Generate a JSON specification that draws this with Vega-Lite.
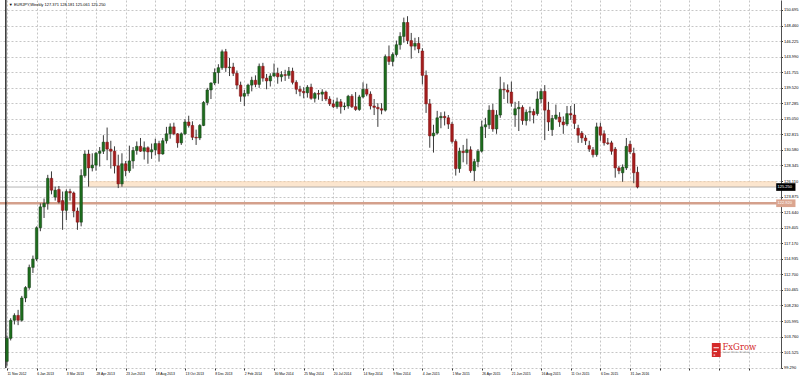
{
"$schema":"https://vega.github.io/schema/vega-lite/v6.json",
"width":781,"height":368,
"autosize":{"type":"none"},
"padding":{"left":0,"top":0,"right":19,"bottom":8},
"background":"white",
"config":{"view":{"stroke":null},"font":"Liberation Sans","axis":{"labelOverlap":false,"labelFlush":false,"labelFont":"Liberation Sans"}},
"datasets":{
"candles":[
{"i":0,"o":100.2,"h":103.9,"l":99.6,"c":103.5},
{"i":1,"o":103.5,"h":106.4,"l":103.2,"c":106.1},
{"i":2,"o":106.1,"h":107.1,"l":105.5,"c":106.8},
{"i":3,"o":106.8,"h":107.6,"l":105.4,"c":106.1},
{"i":4,"o":106.1,"h":109.6,"l":105.9,"c":109.3},
{"i":5,"o":109.3,"h":111.0,"l":108.7,"c":110.8},
{"i":6,"o":110.8,"h":114.1,"l":110.5,"c":113.7},
{"i":7,"o":113.7,"h":115.4,"l":112.9,"c":114.9},
{"i":8,"o":114.9,"h":119.6,"l":114.6,"c":119.4},
{"i":9,"o":119.4,"h":122.9,"l":118.9,"c":122.4},
{"i":10,"o":122.4,"h":123.6,"l":120.8,"c":122.9},
{"i":11,"o":122.9,"h":127.0,"l":122.0,"c":126.5},
{"i":12,"o":126.5,"h":127.5,"l":124.2,"c":124.8},
{"i":13,"o":123.8,"h":125.3,"l":123.3,"c":124.8},
{"i":14,"o":124.9,"h":125.4,"l":122.9,"c":123.1},
{"i":15,"o":123.3,"h":124.6,"l":119.1,"c":121.9},
{"i":16,"o":121.9,"h":124.9,"l":120.5,"c":124.6},
{"i":17,"o":124.6,"h":125.0,"l":123.3,"c":124.4},
{"i":18,"o":124.4,"h":124.6,"l":120.9,"c":121.8},
{"i":19,"o":121.8,"h":122.3,"l":119.1,"c":120.2},
{"i":20,"o":120.2,"h":127.8,"l":119.6,"c":126.9},
{"i":21,"o":126.9,"h":130.5,"l":126.6,"c":130.0},
{"i":22,"o":130.0,"h":130.6,"l":125.3,"c":128.0},
{"i":23,"o":128.0,"h":130.1,"l":127.5,"c":128.4},
{"i":24,"o":128.4,"h":130.3,"l":127.6,"c":130.1},
{"i":25,"o":130.1,"h":131.0,"l":128.2,"c":130.4},
{"i":26,"o":130.4,"h":132.7,"l":130.0,"c":131.7},
{"i":27,"o":131.7,"h":133.8,"l":129.1,"c":130.7},
{"i":28,"o":130.7,"h":131.9,"l":127.9,"c":130.4},
{"i":29,"o":130.4,"h":131.1,"l":127.2,"c":128.3},
{"i":30,"o":128.3,"h":129.9,"l":125.1,"c":125.7},
{"i":31,"o":125.7,"h":130.1,"l":125.3,"c":128.6},
{"i":32,"o":128.6,"h":129.0,"l":126.8,"c":127.6},
{"i":33,"o":127.6,"h":131.2,"l":127.3,"c":129.0},
{"i":34,"o":129.0,"h":131.0,"l":127.9,"c":130.5},
{"i":35,"o":130.5,"h":131.8,"l":129.9,"c":131.1},
{"i":36,"o":131.1,"h":132.3,"l":130.3,"c":130.4},
{"i":37,"o":130.4,"h":131.8,"l":129.2,"c":130.9},
{"i":38,"o":130.9,"h":131.1,"l":128.6,"c":130.3},
{"i":39,"o":130.3,"h":131.5,"l":129.3,"c":130.6},
{"i":40,"o":130.6,"h":132.2,"l":129.8,"c":131.5},
{"i":41,"o":131.5,"h":131.9,"l":128.9,"c":130.0},
{"i":42,"o":130.0,"h":132.3,"l":129.9,"c":131.9},
{"i":43,"o":131.9,"h":133.9,"l":131.5,"c":132.9},
{"i":44,"o":132.9,"h":134.4,"l":132.2,"c":133.9},
{"i":45,"o":133.9,"h":134.5,"l":132.7,"c":132.9},
{"i":46,"o":132.9,"h":133.0,"l":130.9,"c":131.6},
{"i":47,"o":131.6,"h":133.1,"l":131.3,"c":132.9},
{"i":48,"o":132.9,"h":135.0,"l":132.7,"c":134.6},
{"i":49,"o":134.6,"h":135.5,"l":133.8,"c":134.1},
{"i":50,"o":134.1,"h":134.7,"l":132.0,"c":132.4},
{"i":51,"o":132.4,"h":133.5,"l":131.3,"c":132.3},
{"i":52,"o":132.3,"h":134.3,"l":132.0,"c":134.1},
{"i":53,"o":134.1,"h":137.6,"l":134.0,"c":137.4},
{"i":54,"o":137.4,"h":139.5,"l":137.0,"c":139.2},
{"i":55,"o":139.2,"h":140.3,"l":137.9,"c":140.2},
{"i":56,"o":140.2,"h":142.3,"l":139.9,"c":141.7},
{"i":57,"o":141.7,"h":142.9,"l":140.1,"c":142.4},
{"i":58,"o":142.4,"h":145.0,"l":142.1,"c":144.7},
{"i":59,"o":144.7,"h":145.1,"l":141.8,"c":142.4},
{"i":60,"o":142.4,"h":143.8,"l":141.2,"c":142.5},
{"i":61,"o":142.5,"h":143.1,"l":141.2,"c":141.6},
{"i":62,"o":141.6,"h":142.0,"l":139.3,"c":139.9},
{"i":63,"o":139.9,"h":140.4,"l":137.5,"c":138.3},
{"i":64,"o":138.3,"h":139.2,"l":136.9,"c":138.7},
{"i":65,"o":138.7,"h":140.1,"l":138.3,"c":139.9},
{"i":66,"o":139.9,"h":141.1,"l":139.0,"c":140.6},
{"i":67,"o":140.6,"h":141.3,"l":139.6,"c":140.0},
{"i":68,"o":140.0,"h":143.0,"l":139.5,"c":142.6},
{"i":69,"o":142.6,"h":143.1,"l":140.4,"c":140.9},
{"i":70,"o":140.9,"h":141.5,"l":139.3,"c":140.5},
{"i":71,"o":140.5,"h":141.6,"l":139.7,"c":141.2},
{"i":72,"o":141.2,"h":143.0,"l":141.1,"c":141.6},
{"i":73,"o":141.6,"h":142.4,"l":140.1,"c":141.1},
{"i":74,"o":141.1,"h":141.9,"l":140.4,"c":141.4},
{"i":75,"o":141.4,"h":142.1,"l":140.5,"c":141.3},
{"i":76,"o":141.3,"h":142.5,"l":140.8,"c":141.9},
{"i":77,"o":141.9,"h":142.4,"l":140.0,"c":140.3},
{"i":78,"o":140.3,"h":140.6,"l":138.6,"c":139.3},
{"i":79,"o":139.3,"h":139.8,"l":138.3,"c":139.0},
{"i":80,"o":139.0,"h":139.6,"l":138.0,"c":138.8},
{"i":81,"o":138.8,"h":139.9,"l":138.1,"c":139.6},
{"i":82,"o":139.6,"h":140.1,"l":137.8,"c":138.0},
{"i":83,"o":138.0,"h":138.9,"l":137.4,"c":138.7},
{"i":84,"o":138.7,"h":139.2,"l":137.8,"c":138.6},
{"i":85,"o":138.6,"h":139.3,"l":137.6,"c":138.9},
{"i":86,"o":138.9,"h":139.1,"l":137.6,"c":137.9},
{"i":87,"o":137.9,"h":138.3,"l":136.9,"c":137.2},
{"i":88,"o":137.2,"h":137.8,"l":136.6,"c":136.8},
{"i":89,"o":136.8,"h":138.1,"l":136.5,"c":137.5},
{"i":90,"o":137.5,"h":137.9,"l":135.8,"c":136.8},
{"i":91,"o":136.8,"h":137.4,"l":136.3,"c":136.9},
{"i":92,"o":136.9,"h":138.5,"l":136.5,"c":138.3},
{"i":93,"o":138.3,"h":138.6,"l":136.6,"c":136.8},
{"i":94,"o":136.8,"h":138.9,"l":136.2,"c":136.4},
{"i":95,"o":136.4,"h":138.5,"l":136.2,"c":138.2},
{"i":96,"o":138.2,"h":140.3,"l":138.0,"c":139.3},
{"i":97,"o":139.3,"h":140.1,"l":138.3,"c":138.6},
{"i":98,"o":138.6,"h":139.0,"l":136.4,"c":136.9},
{"i":99,"o":136.9,"h":137.9,"l":135.6,"c":136.7},
{"i":100,"o":136.7,"h":137.3,"l":133.9,"c":136.5},
{"i":101,"o":136.5,"h":137.3,"l":135.7,"c":136.3},
{"i":102,"o":136.3,"h":144.3,"l":136.1,"c":144.0},
{"i":103,"o":144.0,"h":145.6,"l":142.8,"c":143.3},
{"i":104,"o":143.3,"h":144.6,"l":142.6,"c":144.3},
{"i":105,"o":144.3,"h":146.3,"l":144.0,"c":145.7},
{"i":106,"o":145.7,"h":147.5,"l":145.0,"c":146.9},
{"i":107,"o":146.9,"h":149.6,"l":146.0,"c":148.9},
{"i":108,"o":148.9,"h":149.8,"l":145.8,"c":146.3},
{"i":109,"o":146.3,"h":147.4,"l":143.7,"c":145.5},
{"i":110,"o":145.5,"h":146.7,"l":144.9,"c":145.9},
{"i":111,"o":145.9,"h":146.8,"l":144.5,"c":145.1},
{"i":112,"o":144.8,"h":145.2,"l":140.0,"c":141.3},
{"i":113,"o":141.3,"h":142.0,"l":135.9,"c":137.2},
{"i":114,"o":137.2,"h":137.9,"l":130.9,"c":132.6},
{"i":115,"o":132.6,"h":134.2,"l":130.2,"c":133.0},
{"i":116,"o":133.0,"h":136.2,"l":132.8,"c":135.2},
{"i":117,"o":135.2,"h":136.0,"l":133.7,"c":135.4},
{"i":118,"o":135.4,"h":136.1,"l":134.1,"c":135.2},
{"i":119,"o":135.2,"h":135.6,"l":133.6,"c":134.3},
{"i":120,"o":134.3,"h":134.6,"l":131.5,"c":131.8},
{"i":121,"o":131.8,"h":132.1,"l":126.9,"c":127.9},
{"i":122,"o":127.9,"h":130.9,"l":127.3,"c":130.4},
{"i":123,"o":130.4,"h":131.3,"l":128.8,"c":130.2},
{"i":124,"o":130.2,"h":132.2,"l":128.5,"c":130.6},
{"i":125,"o":130.6,"h":131.1,"l":127.3,"c":127.6},
{"i":126,"o":127.6,"h":129.3,"l":126.1,"c":128.9},
{"i":127,"o":128.9,"h":130.7,"l":128.1,"c":130.4},
{"i":128,"o":130.4,"h":134.8,"l":130.2,"c":133.9},
{"i":129,"o":133.9,"h":135.2,"l":132.3,"c":134.2},
{"i":130,"o":134.2,"h":137.0,"l":133.6,"c":136.3},
{"i":131,"o":136.3,"h":137.2,"l":133.2,"c":133.6},
{"i":132,"o":133.6,"h":136.3,"l":132.9,"c":135.6},
{"i":133,"o":135.6,"h":141.1,"l":135.2,"c":139.3},
{"i":134,"o":139.3,"h":140.3,"l":137.9,"c":139.2},
{"i":135,"o":139.2,"h":140.0,"l":137.3,"c":138.9},
{"i":136,"o":138.9,"h":140.4,"l":136.8,"c":137.3},
{"i":137,"o":135.6,"h":137.5,"l":133.9,"c":136.5},
{"i":138,"o":136.5,"h":137.6,"l":133.3,"c":136.7},
{"i":139,"o":136.7,"h":137.0,"l":134.2,"c":134.8},
{"i":140,"o":134.8,"h":136.4,"l":134.1,"c":136.0},
{"i":141,"o":136.0,"h":136.8,"l":134.7,"c":136.1},
{"i":142,"o":136.1,"h":136.5,"l":134.4,"c":135.6},
{"i":143,"o":135.8,"h":139.0,"l":135.5,"c":137.9},
{"i":144,"o":137.9,"h":139.4,"l":137.3,"c":139.0},
{"i":145,"o":139.0,"h":139.9,"l":132.0,"c":136.3},
{"i":146,"o":136.3,"h":137.5,"l":133.3,"c":134.6},
{"i":147,"o":133.5,"h":135.6,"l":132.6,"c":135.1},
{"i":148,"o":135.1,"h":137.1,"l":134.9,"c":135.6},
{"i":149,"o":135.3,"h":136.0,"l":133.9,"c":134.6},
{"i":150,"o":134.6,"h":135.4,"l":132.9,"c":134.2},
{"i":151,"o":134.3,"h":136.9,"l":134.0,"c":135.8},
{"i":152,"o":135.8,"h":136.9,"l":134.9,"c":135.6},
{"i":153,"o":135.6,"h":137.2,"l":133.6,"c":134.4},
{"i":154,"o":133.7,"h":134.2,"l":131.6,"c":132.7},
{"i":155,"o":133.0,"h":133.3,"l":131.6,"c":132.3},
{"i":156,"o":132.3,"h":132.7,"l":131.3,"c":131.9},
{"i":157,"o":131.2,"h":131.9,"l":130.3,"c":130.7},
{"i":158,"o":130.6,"h":131.0,"l":129.5,"c":129.9},
{"i":159,"o":129.9,"h":134.5,"l":129.6,"c":133.9},
{"i":160,"o":133.9,"h":134.5,"l":131.9,"c":132.7},
{"i":161,"o":132.9,"h":133.4,"l":131.2,"c":131.6},
{"i":162,"o":131.6,"h":132.3,"l":131.3,"c":131.5},
{"i":163,"o":131.6,"h":131.9,"l":129.9,"c":130.4},
{"i":164,"o":130.7,"h":131.0,"l":126.6,"c":128.0},
{"i":165,"o":128.0,"h":128.3,"l":127.1,"c":127.6},
{"i":166,"o":127.3,"h":128.5,"l":126.0,"c":128.1},
{"i":167,"o":128.0,"h":132.3,"l":127.7,"c":131.1},
{"i":168,"o":131.4,"h":131.9,"l":130.0,"c":130.3},
{"i":169,"o":130.1,"h":130.9,"l":125.8,"c":127.3},
{"i":170,"o":127.371,"h":128.181,"l":125.061,"c":125.25}
]
},
"layer":[
{"data":{"values":[{"x1":22,"x2":207.35,"lo":125.3,"hi":126.02}]},
 "mark":{"type":"rect","fill":"#fce6cf","stroke":"#f6cfa6","strokeWidth":0.6},
 "encoding":{
  "x":{"field":"x1","type":"quantitative","title":null,
   "scale":{"domain":[-0.532,207.35],"nice":false,"zero":false},
   "axis":{"orient":"bottom","values":[0,8,16,24,32,40,48,56,64,72,80,88,96,104,112,120,128,136,144,152,160,168,176,184,192,200],"tickCount":60,
    "labelExpr":"['11 Nov 2012','6 Jan 2013','3 Mar 2013','28 Apr 2013','23 Jun 2013','18 Aug 2013','13 Oct 2013','8 Dec 2013','2 Feb 2014','30 Mar 2014','25 May 2014','20 Jul 2014','14 Sep 2014','9 Nov 2014','4 Jan 2015','1 Mar 2015','26 Apr 2015','21 Jun 2015','16 Aug 2015','11 Oct 2015','6 Dec 2015','31 Jan 2016'][round(datum.value/8)] || ''",
    "domain":false,"ticks":true,"tickSize":2,"tickColor":"#000000","tickWidth":0.8,
    "labelAlign":"left","labelBaseline":"top","labelFontSize":3.4,"labelColor":"#000000","labelPadding":1,"labelOverlap":false,"labelFlush":false,"labelBound":false,
    "grid":true,"gridColor":"#b8b8b8","gridDash":[2,2],"gridWidth":0.8}},
  "x2":{"field":"x2"},
  "y":{"field":"lo","type":"quantitative","title":null,
   "scale":{"domain":[99.24,152.132],"nice":false,"zero":false},
   "axis":{"orient":"right","values":[150.695,148.46,146.225,143.99,141.755,139.52,137.285,135.05,132.815,130.58,128.345,126.11,123.875,121.64,119.405,117.17,114.935,112.7,110.465,108.23,105.995,103.76,101.525,99.29],"tickCount":60,
    "format":".3f","domain":true,"domainColor":"#505050","domainWidth":1,"ticks":true,"tickSize":1.5,"tickColor":"#000000","tickWidth":0.8,
    "labelAlign":"left","labelBaseline":"middle","labelFontSize":4,"labelColor":"#000000","labelPadding":1,"labelOverlap":false,"labelFlush":false,"labelBound":false,
    "grid":true,"gridColor":"#b8b8b8","gridDash":[2,2],"gridWidth":0.8}},
  "y2":{"field":"hi"}}},
{"data":{"values":[{"p":122.92}]},
 "mark":{"type":"rule","color":"#d4a08c","strokeWidth":2.5},
 "encoding":{"y":{"field":"p","type":"quantitative","title":null}}},
{"data":{"values":[{"p":125.25}]},
 "mark":{"type":"rule","color":"#b4b4b4","strokeWidth":1},
 "encoding":{"y":{"field":"p","type":"quantitative","title":null}}},
{"data":{"values":[{"q":-0.3}]},
 "mark":{"type":"rule","color":"#000000","strokeWidth":1.2},
 "encoding":{"x":{"field":"q","type":"quantitative","title":null}}},
{"data":{"name":"candles"},
 "mark":{"type":"rule","color":"#3a3a3a","strokeWidth":1},
 "encoding":{"x":{"field":"i","type":"quantitative","title":null},"y":{"field":"l","type":"quantitative","title":null},"y2":{"field":"h"}}},
{"data":{"name":"candles"},
 "mark":{"type":"bar","size":2.6,"strokeWidth":0.5},
 "encoding":{"x":{"field":"i","type":"quantitative","title":null},"y":{"field":"o","type":"quantitative","title":null},"y2":{"field":"c"},
  "color":{"condition":{"test":"datum.c >= datum.o","value":"#1d6e1d"},"value":"#a51d1d"},
  "stroke":{"condition":{"test":"datum.c >= datum.o","value":"#163a16"},"value":"#7a1010"}}},
{"data":{"values":[{"x1":207.4,"x2":212.6,"lo":124.7,"hi":125.8,"fill":"#000000"},{"x1":207.4,"x2":212.6,"lo":122.37,"hi":123.47,"fill":"#dba58f"}]},
 "mark":{"type":"rect"},
 "encoding":{"x":{"field":"x1","type":"quantitative","title":null},"x2":{"field":"x2"},"y":{"field":"lo","type":"quantitative","title":null},"y2":{"field":"hi"},"fill":{"field":"fill","type":"nominal","scale":null}}},
{"data":{"values":[{"x":207.75,"y":125.25,"t":"125.250"},{"x":207.75,"y":122.92,"t":"122.920"}]},
 "mark":{"type":"text","align":"left","baseline":"middle","fontSize":4,"color":"#ffffff"},
 "encoding":{"x":{"field":"x","type":"quantitative","title":null},"y":{"field":"y","type":"quantitative","title":null},"text":{"field":"t"}}},
{"data":{"values":[{"x":0.5,"y":151.42,"t":"▼ EURJPY,Weekly  127.371 128.181 125.061 125.250"}]},
 "mark":{"type":"text","align":"left","baseline":"middle","fontSize":4,"color":"#000000"},
 "encoding":{"x":{"field":"x","type":"quantitative","title":null},"y":{"field":"y","type":"quantitative","title":null},"text":{"field":"t"}}},
{"data":{"values":[{"x1":190.05,"x2":192.44,"lo":100.82,"hi":102.83}]},
 "mark":{"type":"rect","fill":"#d42a2a"},
 "encoding":{"x":{"field":"x1","type":"quantitative","title":null},"x2":{"field":"x2"},"y":{"field":"lo","type":"quantitative","title":null},"y2":{"field":"hi"}}},
{"data":{"values":[{"x1":190.5,"x2":191.95,"y":102.15},{"x1":190.5,"x2":191.45,"y":101.6},{"x1":190.5,"x2":190.95,"y":101.1}]},
 "mark":{"type":"rule","color":"#ffffff","strokeWidth":1},
 "encoding":{"x":{"field":"x1","type":"quantitative","title":null},"x2":{"field":"x2"},"y":{"field":"y","type":"quantitative","title":null}}},
{"data":{"values":[{"x":192.9,"y":101.85,"t":"FxGrow","s":8.5,"c":"#d42a2a"},{"x":192.9,"y":101.35,"t":"Smart Forex Trading","s":2.6,"c":"#888888"}]},
 "mark":{"type":"text","align":"left","baseline":"alphabetic","font":"DejaVu Serif"},
 "encoding":{"x":{"field":"x","type":"quantitative","title":null},"y":{"field":"y","type":"quantitative","title":null},"text":{"field":"t"},
  "size":{"field":"s","type":"quantitative","scale":null},"color":{"field":"c","type":"nominal","scale":null}}}
]
}
